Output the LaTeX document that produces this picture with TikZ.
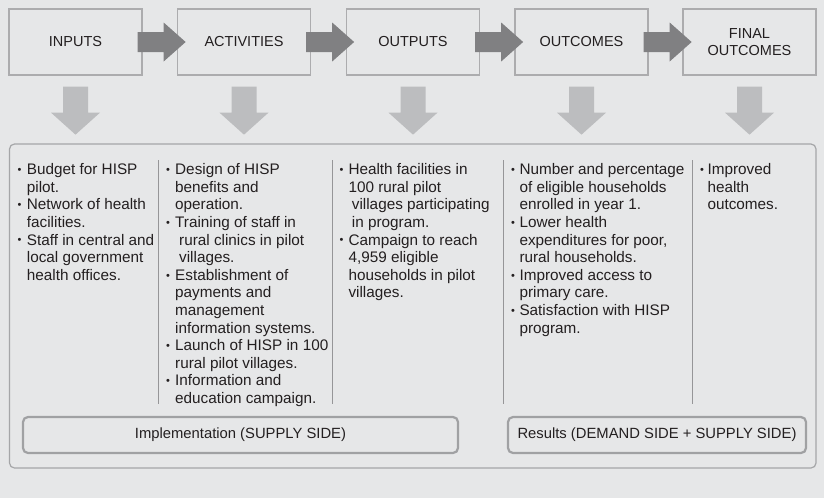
\documentclass[tikz,border=0pt]{standalone}
\usepackage{fontspec}
\setmainfont{Liberation Sans}
\usetikzlibrary{calc}
\definecolor{bg}{RGB}{230,231,232}
\definecolor{boxline}{RGB}{172,172,174}
\definecolor{darkarrow}{RGB}{128,128,130}
\definecolor{lightarrow}{RGB}{188,189,191}
\definecolor{panelline}{RGB}{165,166,168}
\definecolor{sepline}{RGB}{150,150,152}
\definecolor{labline}{RGB}{160,161,163}
\definecolor{txt}{RGB}{35,31,32}
\newcommand\bul[1][9pt]{\makebox[#1][l]{\raisebox{1.2pt}{\fontsize{11}{11}\selectfont\textbullet}}}
\begin{document}
\begin{tikzpicture}[x=1pt,y=-1pt,
  stagebox/.style={draw=boxline,line width=1.3pt,fill=bg,minimum width=133pt,minimum height=66pt,inner sep=0pt,align=center,font=\fontsize{14.5}{17}\selectfont,text=txt},
  ln/.style={anchor=base west,inner sep=0pt,font=\fontsize{15.3}{17.6}\selectfont,text=txt},
  labbox/.style={draw=labline,line width=2.2pt,rounded corners=5pt,minimum height=36pt,inner sep=0pt,font=\fontsize{14.8}{17}\selectfont,text=txt},
  panelbox/.style={draw=panelline,line width=1.2pt,rounded corners=5pt,inner sep=0pt},
  sep/.style={draw=sepline,line width=0.8pt}]
\fill[bg] (0,0) rectangle (824,498);
\useasboundingbox (0,0) rectangle (824,498);
% top stage boxes
\node[stagebox] (b1) at (75.5,42) {INPUTS};
\node[stagebox] (b2) at (244,42) {ACTIVITIES};
\node[stagebox] (b3) at (413,42) {OUTPUTS};
\node[stagebox] (b4) at (581.5,42) {OUTCOMES};
\node[stagebox] (b5) at (749.5,42) {FINAL\\OUTCOMES};
% right arrows
\foreach \a in {b1,b2,b3,b4}{
  \fill[darkarrow] ($(\a.east)+(-5,-10)$) -- ($(\a.east)+(21,-10)$) -- ($(\a.east)+(21,-19.5)$)
    -- ($(\a.east)+(43,0)$) -- ($(\a.east)+(21,19.5)$) -- ($(\a.east)+(21,10)$) -- ($(\a.east)+(-5,10)$) -- cycle;
}
% down arrows
\foreach \a in {b1,b2,b3,b4,b5}{
  \fill[lightarrow] ($(\a.south)+(-12.5,11)$) -- ($(\a.south)+(12.5,11)$) -- ($(\a.south)+(12.5,37)$)
    -- ($(\a.south)+(24.5,37)$) -- ($(\a.south)+(0,59)$) -- ($(\a.south)+(-24.5,37)$) -- ($(\a.south)+(-12.5,37)$) -- cycle;
}
% panel
\node[panelbox,minimum width=806.5pt,minimum height=324pt] (panel) at (412.75,306) {};
% separators
\draw[sep] (158,160) -- (158,404);
\draw[sep] (332,160) -- (332,404);
\draw[sep] (503,160) -- (503,404);
\draw[sep] (692,160) -- (692,404);
% column 1
\node[ln] (a1) at (17.3,174.7) {\bul[9.4pt]Budget for HISP};
\node[ln] (a2) at (26.7,192.3) {pilot.};
\node[ln] (a3) at (17.3,209.9) {\bul[9.4pt]Network of health};
\node[ln] (a4) at (26.7,227.5) {facilities.};
\node[ln] (a5) at (17.3,245.1) {\bul[9.4pt]Staff in central and};
\node[ln] (a6) at (26.7,262.7) {local government};
\node[ln] (a7) at (26.7,280.3) {health offices.};
% column 2
\node[ln] (c1) at (166,174.7) {\bul Design of HISP};
\node[ln] (c2) at (175,192.3) {benefits and};
\node[ln] (c3) at (175,209.9) {operation.};
\node[ln] (c4) at (166,227.5) {\bul Training of staff in};
\node[ln] (c5) at (179,245.1) {rural clinics in pilot};
\node[ln] (c6) at (179,262.7) {villages.};
\node[ln] (c7) at (166,280.3) {\bul Establishment of};
\node[ln] (c8) at (175,297.9) {payments and};
\node[ln] (c9) at (175,315.5) {management};
\node[ln] (c10) at (175,333.1) {information systems.};
\node[ln] (c11) at (166,350.7) {\bul Launch of HISP in 100};
\node[ln] (c12) at (175,368.3) {rural pilot villages.};
\node[ln] (c13) at (166,385.9) {\bul Information and};
\node[ln] (c14) at (175,403.5) {education campaign.};
% column 3
\node[ln] (d1) at (339.3,174.7) {\bul Health facilities in};
\node[ln] (d2) at (348.3,192.3) {100 rural pilot};
\node[ln] (d3) at (351.7,209.9) {villages participating};
\node[ln] (d4) at (351.7,227.5) {in program.};
\node[ln] (d5) at (339.3,245.1) {\bul Campaign to reach};
\node[ln] (d6) at (348.3,262.7) {4,959 eligible};
\node[ln] (d7) at (348.3,280.3) {households in pilot};
\node[ln] (d8) at (348.3,297.9) {villages.};
% column 4
\node[ln] (e1) at (511,174.7) {\bul[8.3pt]Number and percentage};
\node[ln] (e2) at (519.3,192.3) {of eligible households};
\node[ln] (e3) at (519.3,209.9) {enrolled in year 1.};
\node[ln] (e4) at (511,227.5) {\bul[8.3pt]Lower health};
\node[ln] (e5) at (519.3,245.1) {expenditures for poor,};
\node[ln] (e6) at (519.3,262.7) {rural households.};
\node[ln] (e7) at (511,280.3) {\bul[8.3pt]Improved access to};
\node[ln] (e8) at (519.3,297.9) {primary care.};
\node[ln] (e9) at (511,315.5) {\bul[8.3pt]Satisfaction with HISP};
\node[ln] (e10) at (519.3,333.1) {program.};
% column 5
\node[ln] (f1) at (700,174.7) {\bul[7.3pt]Improved};
\node[ln] (f2) at (707.3,192.3) {health};
\node[ln] (f3) at (707.3,209.9) {outcomes.};
% bottom label boxes
\node[labbox,minimum width=435pt] (impl) at (240.5,435) {Implementation (SUPPLY SIDE)};
\node[labbox,minimum width=298pt] (res) at (657,435) {Results (DEMAND SIDE + SUPPLY SIDE)};
\end{tikzpicture}
\end{document}
